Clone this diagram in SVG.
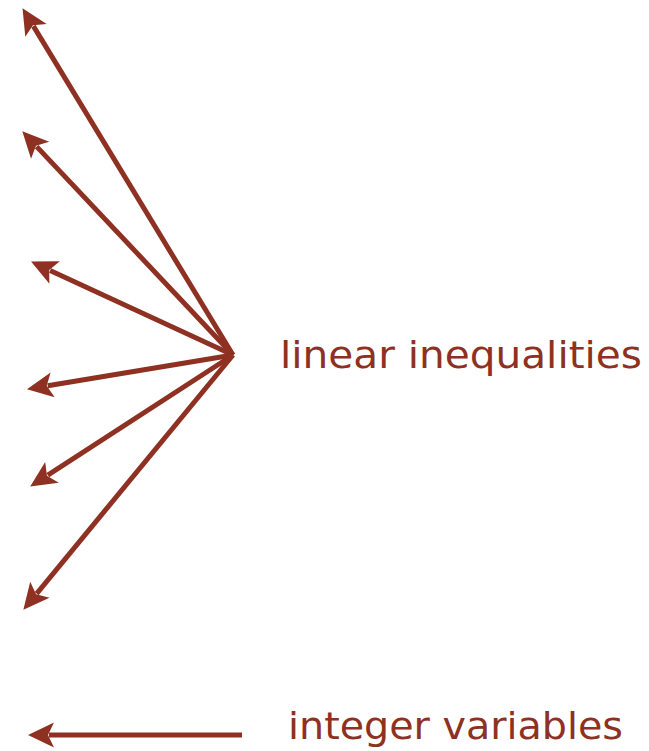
<svg xmlns="http://www.w3.org/2000/svg" width="649" height="751" viewBox="0 0 649 751">
<style>
.c{stroke:#8E3122;stroke-width:5;fill:none;marker-end:url(#ah)}
.t{fill:#8E3122;font-family:"DejaVu Sans","Liberation Sans",sans-serif;font-size:38px}
</style>
<defs>
<marker id="ah" markerUnits="userSpaceOnUse" markerWidth="40" markerHeight="40" refX="0" refY="0" orient="auto" overflow="visible">
<path d="M21,0 L-5,-12.5 L1,0 L-5,12.5 Z" fill="#8E3122"/>
</marker>
</defs>
<rect width="649" height="751" fill="#fff"/>
<g id="connectors">
<path class="c" d="M233,355 L33.4,26.1"/>
<path class="c" d="M233,355 L36.7,146.6"/>
<path class="c" d="M233,355 L50.1,270.4"/>
<path class="c" d="M233,355 L47.7,385.7"/>
<path class="c" d="M233,355 L47.8,475.1"/>
<path class="c" d="M233,355 L36.7,593.6"/>
<path class="c" d="M242,735 L49,735"/>
</g>
<g id="linear-inequalities"><text class="t" x="280" y="368" textLength="362" lengthAdjust="spacingAndGlyphs">linear inequalities</text></g>
<g id="integer-variables"><text class="t" x="288" y="739" textLength="335" lengthAdjust="spacingAndGlyphs">integer variables</text></g>
</svg>
